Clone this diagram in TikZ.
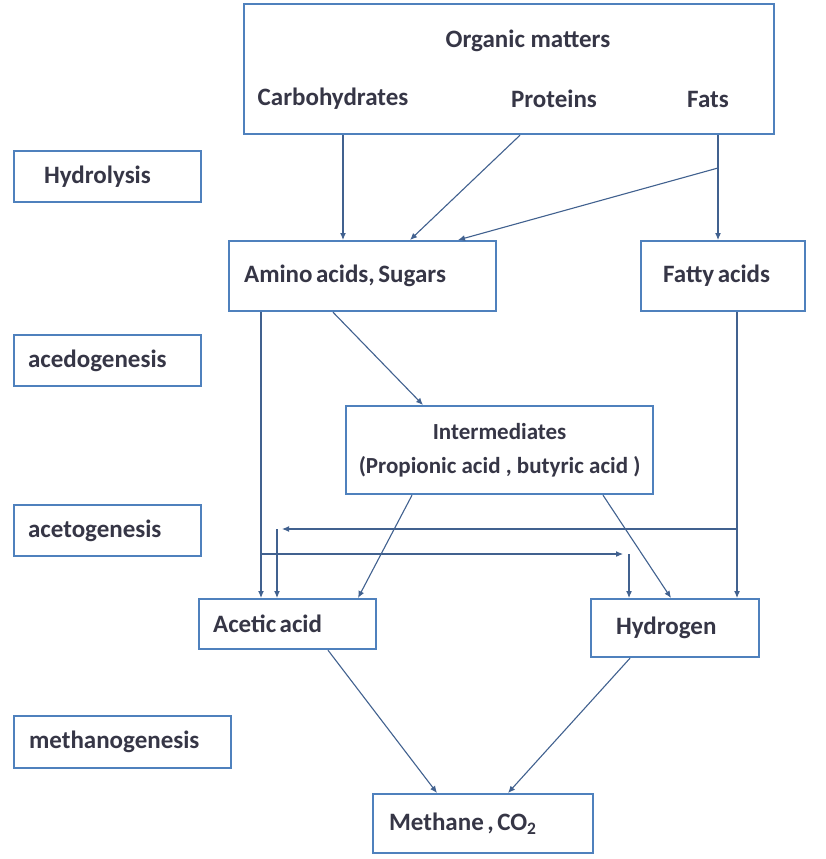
\documentclass[tikz,border=0pt]{standalone}
\usepackage{fontspec}
\setmainfont{Carlito}
\usetikzlibrary{arrows.meta}

\definecolor{boxblue}{HTML}{4F81BD}
\definecolor{linkblue}{HTML}{41618F}
\definecolor{inkgray}{HTML}{363646}

\newcommand\tightspace{\spaceskip=0.14em plus 0.02em\relax}

\tikzset{
  stage/.style={draw=boxblue, line width=2.2pt, fill=white, text=inkgray,
    font=\fontsize{25}{30}\selectfont\bfseries\tightspace, inner ysep=0pt},
  leftstage/.style={stage, align=flush left, anchor=north west},
  word/.style={text=inkgray, font=\fontsize{25}{30}\selectfont\bfseries, inner sep=0pt},
  link/.style={draw=linkblue, line width=1.1pt, -{Latex[length=7pt,width=6pt]}}
}

\begin{document}
\begin{tikzpicture}[x=1pt,y=-1pt]
\path[use as bounding box, fill=white] (0,0) rectangle (826,859);

% input box
\node[stage, anchor=north west, minimum width=530, minimum height=130] (organic) at (243,3) {};
\node[word] (organictitle) at (528,41) {Organic matters};
\node[word] (carbo) at (333,99) {Carbohydrates};
\node[word] (protein) at (554,99) {Proteins};
\node[word] (fats) at (708,99) {Fats};

% stage labels
\node[leftstage, minimum width=187, minimum height=51, text width=127, inner xsep=30] (hydrolysis) at (13,150) {Hydrolysis};
\node[leftstage, minimum width=187, minimum height=51, text width=159, inner xsep=14] (acedo) at (13,334) {acedogenesis};
\node[leftstage, minimum width=187, minimum height=51, text width=159, inner xsep=14] (aceto) at (13,504) {acetogenesis};
\node[leftstage, minimum width=217, minimum height=52, text width=187, inner xsep=15] (methano) at (13,715) {methanogenesis};

% products
\node[leftstage, minimum width=267, minimum height=70, text width=237, inner xsep=15] (amino) at (228,240) {Amino acids, Sugars};
\node[leftstage, minimum width=164, minimum height=70, text width=120, inner xsep=22] (fatty) at (640,240) {Fatty acids};
\node[stage, anchor=north west, minimum width=307, minimum height=88, align=center,
  font=\fontsize{23}{34}\selectfont\bfseries] (inter) at (345,405) {Intermediates\\(Propionic acid , butyric acid )};
\node[leftstage, minimum width=177, minimum height=50, text width=149, inner xsep=14] (acetic) at (198,598) {Acetic acid};
\node[leftstage, minimum width=168, minimum height=58, text width=118, inner xsep=25] (hydrogen) at (590,598) {Hydrogen};
\node[leftstage, minimum width=220, minimum height=59, text width=188, inner xsep=16] (methane) at (372,793) {Methane , CO\textsubscript{2}};

% turning points
\coordinate (fatsfork) at (718,168);
\coordinate (fattyfork) at (737,529);
\coordinate (acidturn) at (277,529);
\coordinate (aminofork) at (261,554);
\coordinate (h2turn) at (629,554);

% hydrolysis
\draw[link] ([xshift=100]organic.south west) -- ([xshift=115]amino.north west);
\draw[link] ([xshift=277]organic.south west) -- ([xshift=182]amino.north west);
\draw[link] ([xshift=475]organic.south west) -- ([xshift=78]fatty.north west);
\draw[link] (fatsfork) -- ([xshift=230]amino.north west);

% acedogenesis
\draw[link] ([xshift=33]amino.south west) -- ([xshift=63]acetic.north west);
\draw[link] ([xshift=105]amino.south west) -- ([xshift=78]inter.north west);
\draw[link] ([xshift=97]fatty.south west) -- ([xshift=147]hydrogen.north west);

% acetogenesis
\draw[link] (fattyfork) -- ([xshift=5]acidturn);
\draw[link] (acidturn) -- (acidturn |- acetic.north);
\draw[link] (aminofork) -- ([xshift=-6]h2turn);
\draw[link] (h2turn) -- (h2turn |- hydrogen.north);
\draw[link] ([xshift=67]inter.south west) -- ([xshift=160]acetic.north west);
\draw[link] ([xshift=258]inter.south west) -- ([xshift=81]hydrogen.north west);

% methanogenesis
\draw[link] ([xshift=130]acetic.south west) -- ([xshift=65]methane.north west);
\draw[link] ([xshift=40]hydrogen.south west) -- ([xshift=136]methane.north west);
\end{tikzpicture}
\end{document}
